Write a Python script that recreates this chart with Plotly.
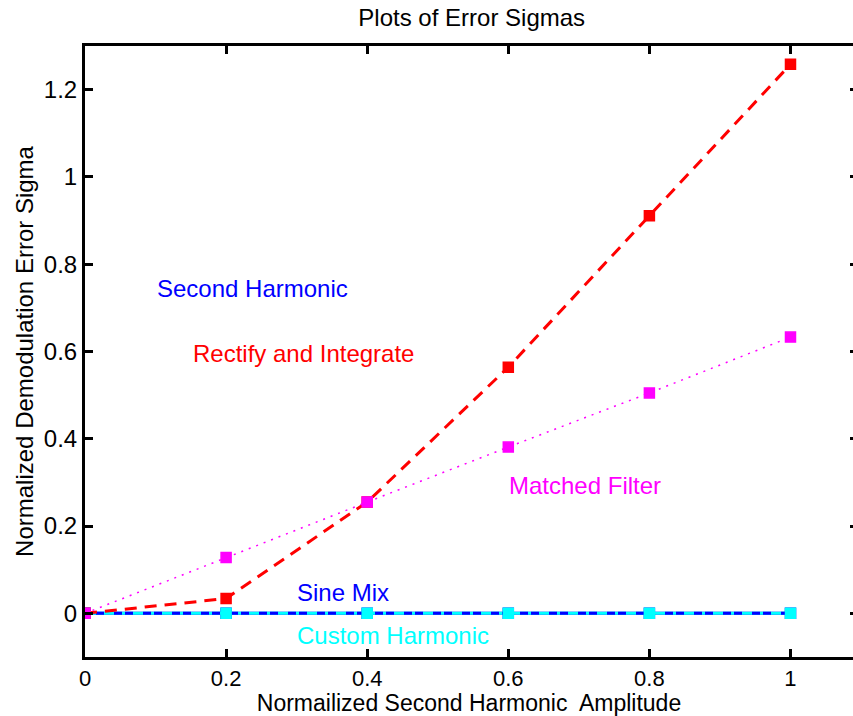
import plotly.graph_objects as go

# Second-harmonic amplitudes at which the error sigma was evaluated
amplitude = [0, 0.2, 0.4, 0.6, 0.8, 1.0]

# Normalized demodulation error sigma per method
second_harmonic = [0, 0, 0, 0, 0, 0]
rectify_integrate = [0, 0.034, 0.255, 0.564, 0.911, 1.258]
matched_filter = [0, 0.128, 0.255, 0.381, 0.505, 0.633]
sine_mix = [0, 0, 0, 0, 0, 0]
custom_harmonic = [0, 0, 0, 0, 0, 0]

x_ticks = [0, 0.2, 0.4, 0.6, 0.8, 1.0]
x_tick_text = ["0", "0.2", "0.4", "0.6", "0.8", "1"]
y_ticks = [0, 0.2, 0.4, 0.6, 0.8, 1.0, 1.2]
y_tick_text = ["0", "0.2", "0.4", "0.6", "0.8", "1", "1.2"]

BLUE, RED, MAGENTA, CYAN = "#0000FF", "#FF0000", "#FF00FF", "#00FFFF"
FONT = "Liberation Sans, Arial, sans-serif"
FS = 24
X_RANGE = [0, 1.0886]
Y_RANGE = [-0.1, 1.3]


def mk(color):
    return dict(symbol="square", size=10, color=color, line=dict(color=color, width=1.5))


fig = go.Figure()

fig.add_trace(go.Scatter(x=amplitude, y=second_harmonic, mode="lines+markers",
                         line=dict(color=BLUE, width=3), marker=mk(BLUE),
                         name="Second Harmonic"))
fig.add_trace(go.Scatter(x=amplitude, y=custom_harmonic, mode="lines",
                         line=dict(color=CYAN, width=3), name="Custom Harmonic"))
fig.add_trace(go.Scatter(x=amplitude, y=sine_mix, mode="lines",
                         line=dict(color=BLUE, width=3, dash="8px,3px,8px,10px"),
                         name="Sine Mix"))
fig.add_trace(go.Scatter(x=amplitude, y=custom_harmonic, mode="markers",
                         marker=mk(CYAN), showlegend=False))
fig.add_trace(go.Scatter(x=amplitude, y=rectify_integrate, mode="lines+markers",
                         line=dict(color=RED, width=3, dash="12px,8px"), marker=mk(RED),
                         name="Rectify and Integrate"))
fig.add_trace(go.Scatter(x=amplitude, y=matched_filter, mode="lines+markers",
                         line=dict(color=MAGENTA, width=1.5, dash="2px,6px"), marker=mk(MAGENTA),
                         name="Matched Filter"))

# Mirrored axes: top border with ticks, right-side ticks only
fig.add_trace(go.Scatter(x=[None], y=[None], xaxis="x2", yaxis="y2", showlegend=False))

labels = [
    ("Second Harmonic", 0.237, 0.745, BLUE),
    ("Rectify and Integrate", 0.309, 0.596, RED),
    ("Matched Filter", 0.709, 0.294, MAGENTA),
    ("Sine Mix", 0.366, 0.048, BLUE),
    ("Custom Harmonic", 0.437, -0.050, CYAN),
]
for text, lx, ly, col in labels:
    fig.add_annotation(x=lx, y=ly, xref="x", yref="y", text=text, showarrow=False,
                       xanchor="center", yanchor="middle",
                       font=dict(family=FONT, size=FS, color=col))

axis_common = dict(showgrid=False, zeroline=False, ticks="inside", ticklen=8,
                   tickwidth=3, tickcolor="black", linecolor="black", linewidth=3,
                   tickfont=dict(family=FONT, size=FS, color="black"))

fig.update_layout(
    width=853, height=716,
    margin=dict(l=85, r=0, t=46, b=59),
    paper_bgcolor="white", plot_bgcolor="white",
    showlegend=False,
    title=dict(text="Plots of Error Sigmas", x=0.553, xref="container", xanchor="center",
               y=0.975, yref="container", yanchor="middle",
               font=dict(family=FONT, size=FS, color="black")),
    xaxis=dict(axis_common, range=X_RANGE, tickvals=x_ticks, ticktext=x_tick_text,
               showline=True, mirror=False,
               tickfont=dict(family=FONT, size=22, color="black"),
               title=dict(text="Normailized Second Harmonic  Amplitude", standoff=4,
                          font=dict(family=FONT, size=23, color="black"))),
    yaxis=dict(axis_common, range=Y_RANGE, tickvals=y_ticks, ticktext=y_tick_text,
               showline=True, mirror=False,
               title=dict(text="Normalized Demodulation Error Sigma", standoff=4,
                          font=dict(family=FONT, size=FS, color="black"))),
    xaxis2=dict(axis_common, range=X_RANGE, tickvals=x_ticks, overlaying="x", side="top",
                showline=True, showticklabels=False, anchor="y"),
    yaxis2=dict(axis_common, range=Y_RANGE, tickvals=y_ticks, overlaying="y", side="right",
                showline=False, showticklabels=False, ticklen=3, anchor="x"),
)

fig.write_html("out.html")
